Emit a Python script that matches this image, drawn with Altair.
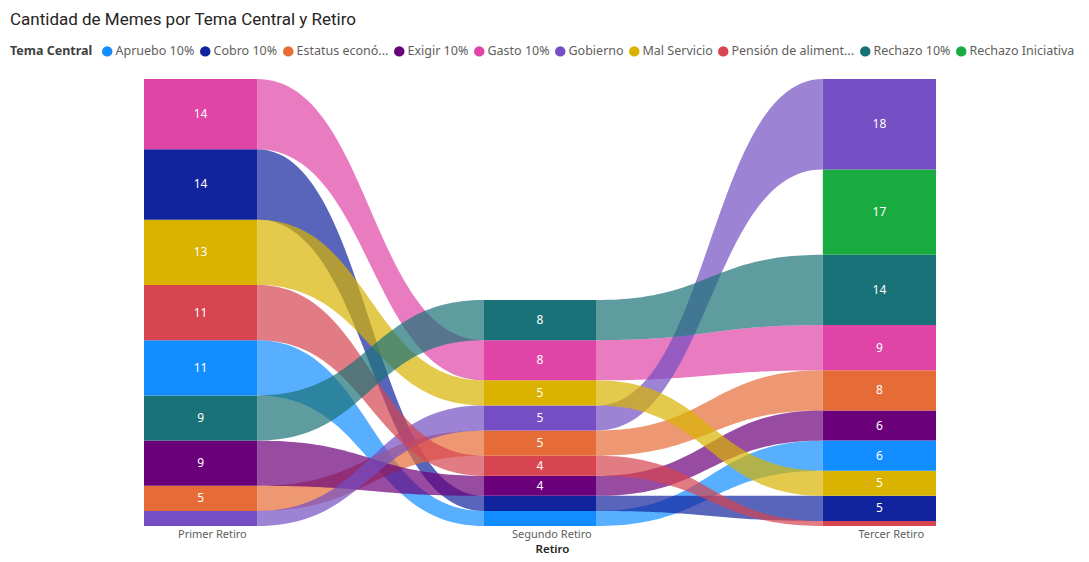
import json
import numpy as np
import pandas as pd
import altair as alt

# ---------------- data ----------------
titulo = "Cantidad de Memes por Tema Central y Retiro"
retiros = ["Primer Retiro", "Segundo Retiro", "Tercer Retiro"]
temas = ["Apruebo 10%", "Cobro 10%", "Estatus económico", "Exigir 10%", "Gasto 10%",
         "Gobierno", "Mal Servicio", "Pensión de alimentos", "Rechazo 10%", "Rechazo Iniciativa"]
etiquetas_leyenda = ["Apruebo 10%", "Cobro 10%", "Estatus econó...", "Exigir 10%", "Gasto 10%",
                     "Gobierno", "Mal Servicio", "Pensión de aliment...", "Rechazo 10%", "Rechazo Iniciativa"]
colores = ["#118DFF", "#12239E", "#E66C37", "#6B007B", "#E044A7",
           "#744EC2", "#D9B300", "#D64550", "#197278", "#1AAB40"]
primer = [11, 14, 5, 9, 14, 3, 13, 11, 9, 0]
segundo = [3, 3, 5, 4, 8, 5, 5, 4, 8, 0]
tercer = [6, 5, 8, 6, 9, 18, 5, 1, 14, 17]

valores = [primer, segundo, tercer]
BAR_W = 1 / 3
FONT = "Noto Sans"

# ---------------- stacked segments ----------------
rows = []
for ci, (ret, vals) in enumerate(zip(retiros, valores)):
    order = sorted(range(len(temas)), key=lambda k: (vals[k], k))  # bottom -> top
    base = 0
    for k in order:
        v = vals[k]
        if v <= 0:
            continue
        rows.append(dict(retiro=ret, col=ci, tema=temas[k], valor=v, y0=base, y1=base + v,
                         x0=ci, x1=ci + BAR_W, xc=ci + BAR_W / 2, yc=base + v / 2))
        base += v
seg = pd.DataFrame(rows)
ymax = max(sum(v) for v in valores)

# ---------------- ribbons (bezier between column edges) ----------------
t = np.linspace(0, 1, 60)
bx = 1.5 * t - 1.5 * t ** 2 + t ** 3
by = 3 * t ** 2 - 2 * t ** 3
rib = []
for ci in range(len(retiros) - 1):
    a = seg[seg.col == ci].set_index("tema")
    b = seg[seg.col == ci + 1].set_index("tema")
    for tema in temas:
        if tema in a.index and tema in b.index:
            ra, rb = a.loc[tema], b.loc[tema]
            xs = ci + BAR_W + (1 - BAR_W) * bx
            for xx, s in zip(xs, by):
                rib.append(dict(rid=f"{ci}-{temas.index(tema):02d}", tema=tema, x=xx,
                                top=ra.y1 + (rb.y1 - ra.y1) * s,
                                bot=ra.y0 + (rb.y0 - ra.y0) * s))
ribdf = pd.DataFrame(rib)

# ---------------- scales / axes ----------------
xscale = alt.Scale(domain=[0, len(retiros) - 1 + BAR_W], nice=False, zero=False)
yscale = alt.Scale(domain=[0, ymax], nice=False, zero=True)
cscale = alt.Scale(domain=temas, range=colores)

label_pos = [i + 0.2 for i in range(len(retiros))]
xaxis = alt.Axis(values=label_pos,
                 labelExpr=f"{json.dumps(retiros)}[round(datum.value - 0.2)]",
                 domain=False, ticks=False, grid=False,
                 labelFont=FONT, labelFontSize=11, labelColor="#605E5C", labelPadding=2,
                 title="Retiro", titleFont=FONT, titleFontSize=11.5, titleFontWeight=600,
                 titleColor="#252423", titleX=408, titleY=17, titleBaseline="top")

leg_map = " : ".join(f"datum.label == {json.dumps(a)} ? {json.dumps(b)}"
                     for a, b in zip(temas, etiquetas_leyenda)) + " : datum.label"

legend = alt.Legend(title="Tema Central", orient="none", legendX=-134, legendY=-34,
                    direction="horizontal", titleOrient="left", titleFont=FONT,
                    titleFontSize=12.5, titleFontWeight="bold", titleColor="#404040",
                    titlePadding=8, labelFont=FONT, labelFontSize=12.5, labelColor="#605E5C",
                    labelOffset=2, columnPadding=4, symbolType="circle", symbolSize=110,
                    symbolStrokeWidth=0, symbolOpacity=1, labelExpr=leg_map, padding=0,
                    labelLimit=300)

color = alt.Color("tema:N", scale=cscale, legend=legend, sort=temas)

ribbons = alt.Chart(ribdf).mark_area(opacity=0.7, interpolate="linear").encode(
    x=alt.X("x:Q", scale=xscale, axis=xaxis),
    y=alt.Y("top:Q", scale=yscale, axis=None),
    y2="bot:Q",
    color=color,
    detail="rid:N",
)

bars = alt.Chart(seg).mark_rect().encode(
    x=alt.X("x0:Q", scale=xscale, axis=xaxis),
    x2="x1:Q",
    y=alt.Y("y0:Q", scale=yscale, axis=None),
    y2="y1:Q",
    color=color,
)

labels = alt.Chart(seg).transform_filter("datum.valor >= 4").mark_text(
    color="white", font=FONT, fontSize=12, baseline="middle", align="center"
).encode(
    x=alt.X("xc:Q", scale=xscale, axis=xaxis),
    y=alt.Y("yc:Q", scale=yscale, axis=None),
    text="valor:Q",
)

title = alt.Chart(pd.DataFrame({"t": [titulo]})).mark_text(
    font="Roboto", fontSize=17, color="#252423", align="left", baseline="middle"
).encode(x=alt.value(-134), y=alt.value(-59), text="t:N")

chart = alt.layer(bars, ribbons, labels, title).properties(
    width=792, height=447,
    autosize=alt.AutoSizeParams(type="none"),
    padding={"left": 136, "top": 71, "right": 145, "bottom": 28},
).configure_view(stroke=None)

chart.save("out.html", embed_options={"renderer": "svg", "actions": False})
